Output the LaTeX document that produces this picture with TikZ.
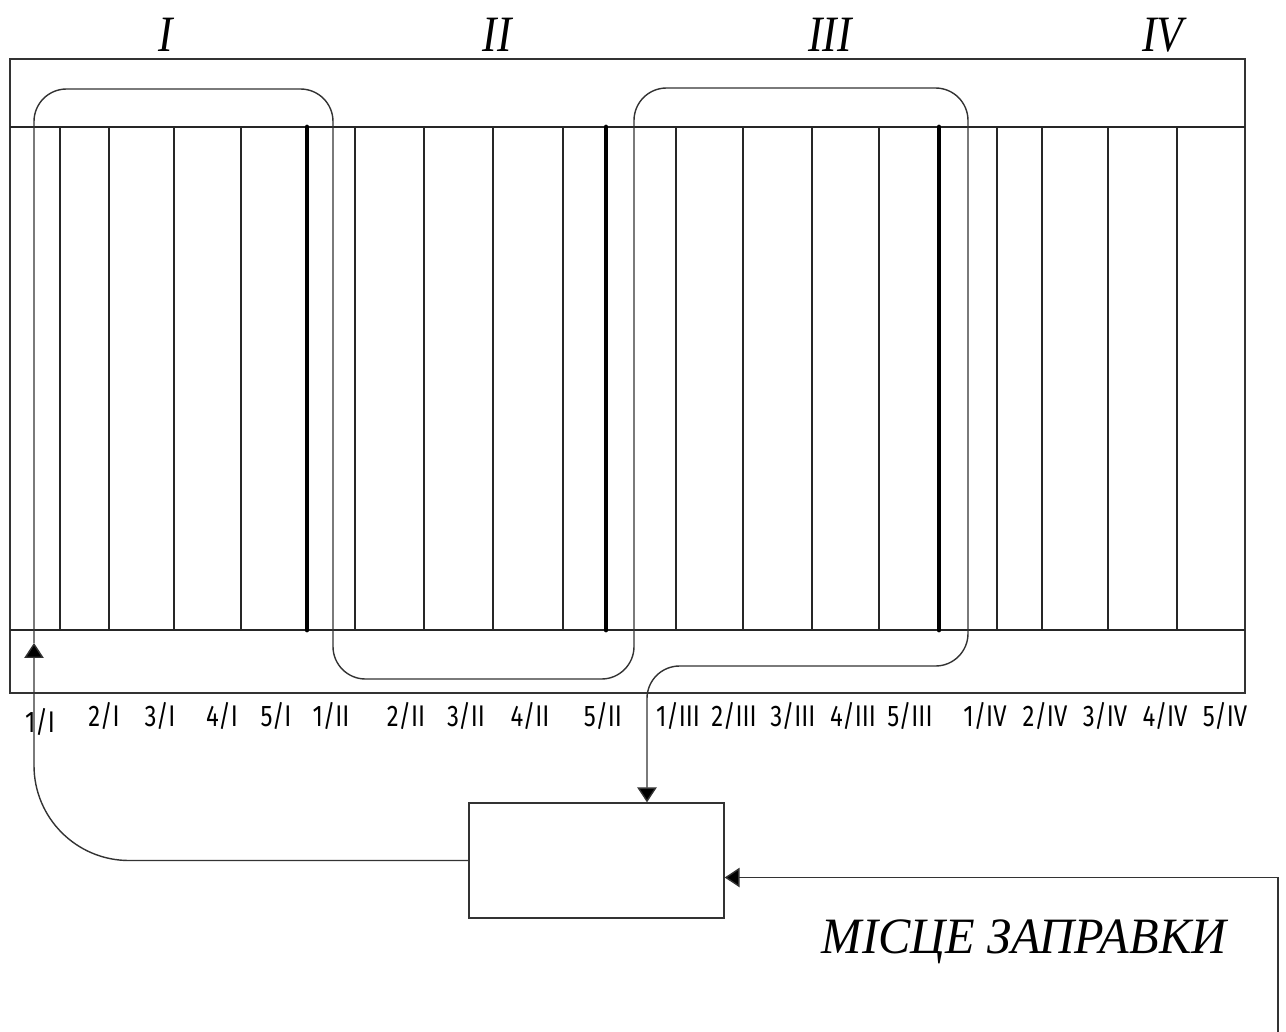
\documentclass[tikz,border=0pt]{standalone}
\usepackage{fontspec}
\setmainfont{Liberation Serif}
\newfontfamily\tagfont{Fira Sans}
\usetikzlibrary{arrows.meta,positioning,calc}
\tikzset{
  field/.style={draw=black!80, line width=0.9pt},
  row/.style={draw=black!85, line width=0.8pt},
  sep/.style={draw=black, line width=2.8pt, line cap=round},
  route/.style={draw=black!80, line width=0.8pt, rounded corners=0.65cm},
  tip/.style={-{Triangle[length=8.5pt,width=11pt,fill=black]}},
  unit/.style={rectangle, draw=black!80, line width=0.8pt, minimum width=5.1cm,
               minimum height=2.3cm, inner sep=0pt},
  zone/.style={font=\fontsize{29}{31}\selectfont\itshape, xscale=0.85, inner sep=0pt},
  tag/.style={font=\tagfont\fontsize{17}{19}\selectfont, xscale=0.8, inner sep=0pt},
  place/.style={font=\fontsize{29}{31}\selectfont\itshape, xscale=0.95, inner sep=0pt},
}
\begin{document}
\begin{tikzpicture}[x=0.02cm, y=-0.02cm]
  \useasboundingbox (0,0) rectangle (1286,1032);
  \draw[field] (10,59) rectangle (1245,693);
  \draw[row] (10,127) -- (1245,127);
  \draw[row] (10,630) -- (1245,630);
  \foreach \x in {60,109,174,241,355,424,493,563,676,743,812,879,997,1042,1108,1177}
    \draw[row] (\x,127) -- (\x,630);
  \foreach \x in {307,606,939}
    \draw[sep] (\x,127) -- (\x,630);

  \foreach \x/\t in {166/I,497/II,830/III,1163/IV}
    \node[zone] (z\t) at (\x,35) {\t};

  \node[tag] (t1) at (40,722) {1/I};
  \foreach \x/\n/\r [count=\i from 2] in {104/2/I,160/3/I,222/4/I,276/5/I,331/1/II,406/2/II,466/3/II,
      530/4/II,603/5/II,678/1/III,734/2/III,793/3/III,853/4/III,910/5/III,
      985/1/IV,1045/2/IV,1105/3/IV,1165/4/IV,1225/5/IV}
    \node[tag] (t\i) at (\x,716) {\n/\r};

  \node[unit] (box) at (596.5,860.5) {};
  \node[place] (spot) at (1024,942) {МІСЦЕ ЗАПРАВКИ};

  \coordinate (in1) at (34,643);
  \coordinate (drop) at (647,666);
  \coordinate (feed) at (1278,1032);
  \draw[route, rounded corners=1.9cm, tip] (box.west) -| (in1);
  \draw[route, tip] (in1) -- (34,89) -- (333,89) -- (333,679) -- (634,679) -- (634,88)
    -- (968,88) -- (968,666) -- (drop) -- (drop |- box.north);
  \draw[route, sharp corners, tip] (feed) |- ([yshift=-0.34cm]box.east);
\end{tikzpicture}
\end{document}
